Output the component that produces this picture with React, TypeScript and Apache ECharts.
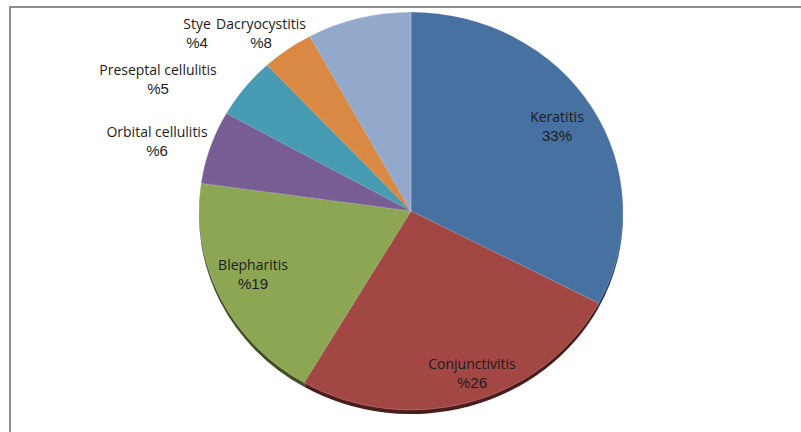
import React, { useEffect, useRef } from "react";
import * as echarts from "echarts";

const categories = [
  "Keratitis",
  "Conjunctivitis",
  "Blepharitis",
  "Orbital cellulitis",
  "Preseptal cellulitis",
  "Stye",
  "Dacryocystitis",
];
const values = [33, 26, 19, 6, 5, 4, 8];
const percentText = ["33%", "%26", "%19", "%6", "%5", "%4", "%8"];
const colors = ["#4771a1", "#a34744", "#8ca654", "#775d94", "#479bb2", "#d98944", "#93a9cc"];
const shadowColors = ["#23395a", "#4a1c1b", "#3f4d22", "#3a2c4a", "#1f4a57", "#6b3e18", "#4a5670"];

// label anchor positions (pixels) for each slice label
const labelPos: [number, number][] = [
  [557, 126],
  [472, 373],
  [253, 274],
  [157, 141],
  [158, 79],
  [197, 33],
  [261, 33],
];

const CX = 411;
const CY = 211;
const RY = 199;
const RX = 212;

export default function App() {
  const pieRef = useRef<HTMLDivElement>(null);
  const labelRef = useRef<HTMLDivElement>(null);
  useEffect(() => {
    if (!pieRef.current || !labelRef.current) return;
    const pie = echarts.init(pieRef.current, null, { renderer: "svg" });
    const lab = echarts.init(labelRef.current, null, { renderer: "svg" });
    pie.setOption({
      animation: false,
      series: [
        {
          type: "pie",
          silent: true,
          z: 1,
          center: [CX, CY + 4],
          radius: RY,
          startAngle: 90,
          label: { show: false },
          labelLine: { show: false },
          data: categories.map((c, i) => ({
            name: c,
            value: values[i],
            itemStyle: { color: shadowColors[i] },
          })),
        },
        {
          type: "pie",
          z: 2,
          center: [CX, CY],
          radius: RY,
          startAngle: 90,
          itemStyle: { borderColor: "rgba(255,255,255,0.35)", borderWidth: 0.6 },
          label: { show: false },
          labelLine: { show: false },
          data: categories.map((c, i) => ({
            name: c,
            value: values[i],
            itemStyle: { color: colors[i] },
          })),
        },
      ],
    });
    lab.setOption({
      animation: false,
      series: [
        {
          type: "pie",
          silent: true,
          center: [CX, CY],
          radius: RY,
          startAngle: 90,
          itemStyle: { color: "rgba(0,0,0,0)" },
          labelLine: { show: false },
          label: {
            show: true,
            position: "outside",
            formatter: (p: any) => `{n|${p.name}}\n{v|${percentText[p.dataIndex]}}`,
            rich: {
              n: { fontFamily: "Open Sans", fontSize: 14, color: "#1c1c1c", lineHeight: 19, align: "center" },
              v: { fontFamily: "Liberation Sans", fontSize: 15, color: "#1c1c1c", lineHeight: 19, align: "center" },
            },
          },
          labelLayout: (params: any) => {
            const p = labelPos[params.dataIndex];
            return { x: p[0], y: p[1], align: "center", verticalAlign: "middle", hideOverlap: false };
          },
          data: categories.map((c, i) => ({ name: c, value: values[i] })),
        },
      ],
    });
    return () => {
      pie.dispose();
      lab.dispose();
    };
  }, []);
  return (
    <div style={{ position: "fixed", left: 0, top: 0, width: 801, height: 432, background: "#fff", overflow: "hidden" }}>
      <div
        ref={pieRef}
        style={{
          position: "absolute",
          left: 0,
          top: 0,
          width: 801,
          height: 432,
          transform: `scaleX(${RX / RY})`,
          transformOrigin: `${CX}px ${CY}px`,
        }}
      />
      <div ref={labelRef} style={{ position: "absolute", left: 0, top: 0, width: 801, height: 432 }} />
      <div
        style={{
          position: "absolute",
          left: 9,
          top: 6,
          width: 792,
          height: 426,
          borderTop: "2px solid #8c8c8c",
          borderLeft: "2px solid #8c8c8c",
          boxSizing: "border-box",
          pointerEvents: "none",
        }}
      />
    </div>
  );
}
